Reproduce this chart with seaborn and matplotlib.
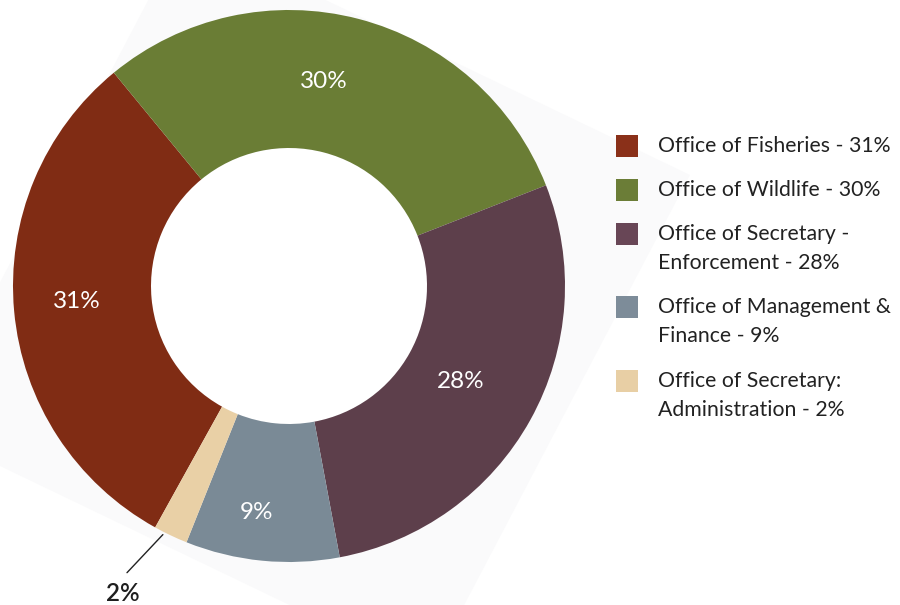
import numpy as np
import matplotlib
matplotlib.use("Agg")
import matplotlib.pyplot as plt
from matplotlib.patches import Polygon, Rectangle, Circle
import seaborn as sns

# Budget share by office
offices = [
    "Office of Fisheries",
    "Office of Wildlife",
    "Office of Secretary -\nEnforcement",
    "Office of Management &\nFinance",
    "Office of Secretary:\nAdministration",
]
shares = [31, 30, 28, 9, 2]
colors = ["#802c14", "#6a7d35", "#5d3f4b", "#7a8a96", "#e9d0a6"]
legend_colors = ["#8a3019", "#6b7d37", "#684656", "#7d8c99", "#e8cfa5"]

sns.set_theme(style="white")
plt.rcParams["font.family"] = ["Lato", "DejaVu Sans"]

W, H = 900, 605
fig = plt.figure(figsize=(W / 100, H / 100), dpi=100)
fig.patch.set_facecolor("white")


def fx(px):
    return px / W


def fy(py):
    return 1 - py / H


# faint tilted backdrop panel behind the ring
panel = [(690, 175), (429, 672), (-77, 429), (184, -68)]
fig.add_artist(Polygon([(fx(x), fy(y)) for x, y in panel], closed=True,
                       transform=fig.transFigure, facecolor="#fafafb",
                       edgecolor="none", zorder=0))

# donut axes: centre (289, 286) px, outer radius 276 px
cx, cy, R = 289, 286, 276
ax = fig.add_axes([fx(cx - R), fy(cy + R), 2 * R / W, 2 * R / H])
ax.set_facecolor("none")

start = 241.0
wedges, _ = ax.pie(shares, colors=colors, startangle=start, counterclock=False,
                   radius=1.0, wedgeprops=dict(width=0.5, linewidth=0))
ax.add_patch(Circle((0, 0), 0.5, facecolor="white", edgecolor="none", zorder=0.5))
ax.set_xlim(-1, 1)
ax.set_ylim(-1, 1)
ax.set_aspect("equal")
ax.axis("off")

# percentage labels inside the ring
label_r = [0.77, 0.75, 0.71, 0.83]
label_nudge = [-1.0, 5.0, 0.0, -2.5]
for i, w in enumerate(wedges[:4]):
    mid = np.deg2rad((w.theta1 + w.theta2) / 2 + label_nudge[i])
    ax.text(label_r[i] * np.cos(mid), label_r[i] * np.sin(mid), f"{shares[i]}%",
            color="white", fontsize=17.5, ha="center", va="center")

# small slice: label outside with a leader line
w = wedges[4]
mid = np.deg2rad((w.theta1 + w.theta2) / 2 - 1.5)
x0, y0 = 1.01 * np.cos(mid), 1.01 * np.sin(mid)
x1, y1 = x0 - 0.13, y0 - 0.138
ax.plot([x0, x1], [y0, y1], color="#222222", lw=1.0, clip_on=False)
ax.text(x1 - 0.015, y1 - 0.075, f"{shares[4]}%", color="#1e1e1e",
        fontsize=17.5, fontweight="semibold", ha="center", va="center",
        clip_on=False)

# legend
sq = 22
row_y = [146, 190, 234, 307, 381]
line_gap = 29
for name, share, col, yc in zip(offices, shares, legend_colors, row_y):
    fig.add_artist(Rectangle((fx(616), fy(yc + sq / 2)), sq / W, sq / H,
                             transform=fig.transFigure, facecolor=col,
                             edgecolor="none"))
    lines = f"{name} - {share}%".split("\n")
    for k, line in enumerate(lines):
        fig.text(fx(658), fy(yc + k * line_gap), line, color="#222222",
                 fontsize=15.3, ha="left", va="center")

fig.savefig("out.png", dpi=100, facecolor="white")
